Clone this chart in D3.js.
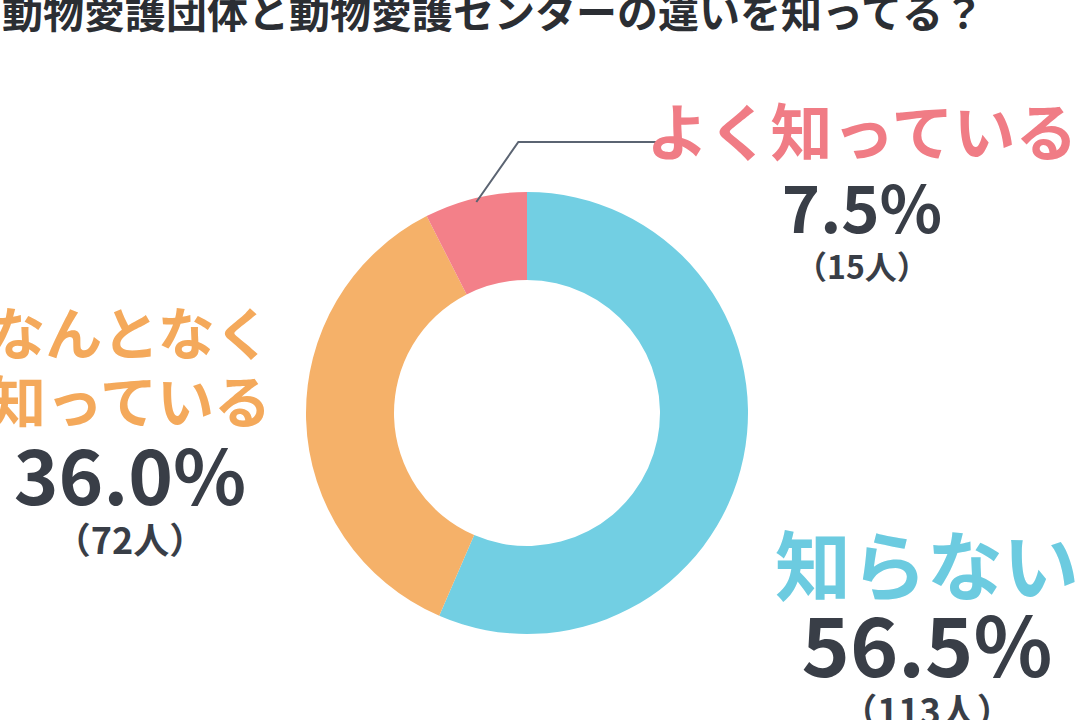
<!DOCTYPE html>
<html>
<head>
<meta charset="utf-8">
<title>動物愛護団体と動物愛護センターの違い</title>
<script src="https://cdn.jsdelivr.net/npm/d3@7/dist/d3.min.js"></script>
<style>
  body { margin: 0; background: #fff; }
  svg { display: block; }
  text { font-family: "Noto Sans CJK JP", "Noto Sans", sans-serif; font-weight: 700; }
</style>
</head>
<body>
<svg id="mainsvg" width="1080" height="720"></svg>
<script>
    // data
    const categories = ['知らない', 'なんとなく知っている', 'よく知っている'];
    const percents = [56.5, 36.0, 7.5];
    const counts = [113, 72, 15];
    const sliceColors = ['#72cfe3', '#f5b169', '#f38089'];
    const labelColors = ['#6ccbe0', '#f4a95b', '#f07c85'];
    const titleText = '動物愛護団体と動物愛護センターの違いを知ってる？';

    const svg = d3.select('#mainsvg');
    const cx = 527, cy = 413;
    const outerR = 221, innerR = 133;
    const dark = '#393e47';

    // title (top edge is cut off in the original)
    svg.append('text')
        .attr('x', 2).attr('y', 28)
        .attr('font-size', 41)
        .attr('font-weight', 900)
        .attr('fill', '#2b2e33')
        .text(titleText);

    const pie = d3.pie().sort(null).value(d => d)(percents);
    const arc = d3.arc().innerRadius(innerR).outerRadius(outerR);

    const g = svg.append('g').attr('transform', `translate(${cx},${cy})`);
    g.selectAll('path').data(pie).join('path')
        .attr('d', arc)
        .attr('fill', (d, i) => sliceColors[i]);

    // leader line for the small slice
    const small = pie[2];
    const mid = (small.startAngle + small.endAngle) / 2;
    const p0 = [Math.sin(mid) * (outerR - 4), -Math.cos(mid) * (outerR - 4)];
    const elbow = [p0[0] + 42, -271];
    const p2 = [158, -271];
    g.append('path')
        .attr('d', d3.line()([p0, elbow, p2]))
        .attr('fill', 'none')
        .attr('stroke', '#5b6472')
        .attr('stroke-width', 2);

    // labels
    const labelSpecs = [
        {i: 0, x: 927, lines: ['知らない'], ly: [595], fs: 76, pctY: 677, pfs: 82, cntY: 725, cfs: 36, cw: 500},
        {i: 1, x: 130, lines: ['なんとなく', '知っている'], ly: [355, 423], fs: 57, pctY: 505, pfs: 76, cntY: 554, cfs: 36, cw: 500},
        {i: 2, x: 862, lines: ['よく知っている'], ly: [156], fs: 62, pctY: 233, pfs: 65, cntY: 279, cfs: 32, cw: 700}
    ];

    labelSpecs.forEach(s => {
        const lg = svg.append('g').attr('text-anchor', 'middle');
        s.lines.forEach((t, k) => {
            lg.append('text')
                .attr('x', s.x).attr('y', s.ly[k])
                .attr('font-size', s.fs)
                .attr('fill', labelColors[s.i])
                .text(t);
        });
        lg.append('text')
            .attr('x', s.x).attr('y', s.pctY)
            .attr('font-size', s.pfs)
            .attr('fill', dark)
            .text(percents[s.i].toFixed(1) + '%');
        lg.append('text')
            .attr('x', s.x).attr('y', s.cntY)
            .attr('font-size', s.cfs)
            .attr('font-weight', s.cw)
            .attr('fill', dark)
            .text('（' + counts[s.i] + '人）');
    });
</script>
</body>
</html>
